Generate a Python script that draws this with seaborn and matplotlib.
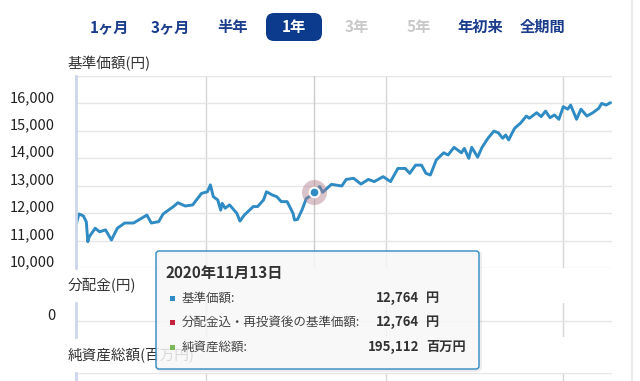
import numpy as np
import pandas as pd
import matplotlib
matplotlib.use("Agg")
import matplotlib.pyplot as plt
import seaborn as sns
from matplotlib.patches import FancyBboxPatch, Rectangle
from matplotlib.lines import Line2D
from matplotlib.transforms import ScaledTranslation

# ---------------- data ----------------
dates = [
    "2020-06-05", "2020-06-07", "2020-06-10", "2020-06-12", "2020-06-13", "2020-06-14",
    "2020-06-18", "2020-06-21", "2020-06-25", "2020-06-29", "2020-07-03", "2020-07-08",
    "2020-07-14", "2020-07-23", "2020-07-26", "2020-07-31", "2020-08-03", "2020-08-10",
    "2020-08-13", "2020-08-18", "2020-08-23", "2020-08-29", "2020-09-02", "2020-09-04",
    "2020-09-06", "2020-09-09", "2020-09-11", "2020-09-12", "2020-09-14", "2020-09-17",
    "2020-09-22", "2020-09-24", "2020-09-27", "2020-10-03", "2020-10-06", "2020-10-10",
    "2020-10-12", "2020-10-16", "2020-10-19", "2020-10-22", "2020-10-26", "2020-10-30",
    "2020-10-31", "2020-11-02", "2020-11-05", "2020-11-08", "2020-11-12", "2020-11-13",
    "2020-11-17", "2020-11-19", "2020-11-25", "2020-12-02", "2020-12-05", "2020-12-10",
    "2020-12-15", "2020-12-20", "2020-12-24", "2020-12-30", "2021-01-04", "2021-01-09",
    "2021-01-14", "2021-01-17", "2021-01-21", "2021-01-25", "2021-01-28", "2021-01-31",
    "2021-02-04", "2021-02-09", "2021-02-12", "2021-02-16", "2021-02-21", "2021-02-23",
    "2021-02-26", "2021-02-28", "2021-03-04", "2021-03-07", "2021-03-11", "2021-03-15",
    "2021-03-18", "2021-03-21", "2021-03-23", "2021-03-25", "2021-03-29", "2021-04-02",
    "2021-04-06", "2021-04-08", "2021-04-13", "2021-04-16", "2021-04-19", "2021-04-22",
    "2021-04-25", "2021-04-28", "2021-05-01", "2021-05-04", "2021-05-06", "2021-05-10",
    "2021-05-13", "2021-05-17", "2021-05-21", "2021-05-25", "2021-05-27", "2021-05-30",
    "2021-06-02",
]
nav = [
    11570, 11970, 11900, 11680, 10960, 11140,
    11450, 11320, 11390, 11020, 11450, 11640,
    11640, 11930, 11640, 11690, 11970, 12240,
    12380, 12260, 12300, 12720, 12780, 13030,
    12600, 12480, 12110, 12360, 12180, 12300,
    11990, 11710, 11930, 12240, 12240, 12480,
    12780, 12660, 12600, 12420, 12420, 11990,
    11750, 11770, 12110, 12540, 12660, 12764,
    12970, 12760, 13050, 12990, 13230, 13270,
    13060, 13230, 13150, 13330, 13150, 13630,
    13630, 13450, 13750, 13750, 13450, 13390,
    13940, 14200, 14120, 14400, 14200, 14360,
    14000, 14400, 14040, 14400, 14730, 14990,
    14930, 14730, 14850, 14670, 15090, 15280,
    15540, 15460, 15660, 15520, 15720, 15480,
    15580, 15420, 15880, 15790, 15940, 15420,
    15790, 15540, 15660, 15820, 16000, 15940,
    16030,
]
period_buttons = ["1ヶ月", "3ヶ月", "半年", "1年", "3年", "5年", "年初来", "全期間"]
active_button = "1年"
disabled_buttons = ["3年", "5年"]
nav_ticks = [10000, 11000, 12000, 13000, 14000, 15000, 16000, 17000]
dist_ticks = [0]
asset_ticks = [400000, 500000]
vgrid_dates = ["2020-09-01", "2021-01-01", "2021-05-01"]
x_range = ["2020-06-05", "2021-06-03"]
panel_titles = ["基準価額(円)", "分配金(円)", "純資産総額(百万円)"]
tooltip_date = "2020-11-13"
tooltip_labels = ["基準価額:", "分配金込・再投資後の基準価額:", "純資産総額:"]
tooltip_values = [12764, 12764, 195112]
tooltip_units = ["円", "円", "百万円"]
tooltip_colors = ["#2f8bc3", "#c4213c", "#7cb95c"]

# ---------------- style ----------------
sns.set_theme(style="white")
plt.rcParams["font.family"] = ["Noto Sans CJK JP", "DejaVu Sans"]

LINE = "#2f8bc3"
GRID_H = "#e6e6e6"
GRID_V = "#d6d6d6"
AXIS = "#ccd6eb"
TXT = "#333333"
NAVY = "#1b3d8c"

fig = plt.figure(figsize=(6.4, 3.81), dpi=100)
fig.patch.set_facecolor("white")
T = fig.dpi_scale_trans  # inches, origin bottom-left


def px(x, y):
    """pixel (top-left origin) -> inches"""
    return x / 100.0, (381 - y) / 100.0


df = pd.DataFrame({"date": pd.to_datetime(dates), "nav": nav})
xlim = (pd.Timestamp(x_range[0]), pd.Timestamp(x_range[1]))
vgrid = pd.to_datetime(vgrid_dates)
label_shift = ScaledTranslation(0, 0.07, T)


def style_axis(ax, ticks, labels):
    ax.set_xlim(*xlim)
    ax.set_xticks(vgrid)
    ax.set_xticklabels([])
    ax.set_yticks(ticks)
    ax.set_yticklabels(labels)
    ax.set_xlabel("")
    ax.set_ylabel("")
    ax.tick_params(axis="both", length=0)
    ax.tick_params(axis="y", pad=15, labelsize=10.5, labelcolor="#222222")
    ax.xaxis.grid(True, color=GRID_V, lw=1)
    ax.yaxis.grid(True, color=GRID_H, lw=1)
    ax.set_axisbelow(True)
    for s in ["top", "right", "bottom"]:
        ax.spines[s].set_visible(False)
    ax.spines["left"].set_color(AXIS)
    ax.spines["left"].set_linewidth(2)
    ax.set_facecolor("white")
    for tk in ax.yaxis.get_major_ticks():
        tk.label1.set_transform(tk.label1.get_transform() + label_shift)


# main panel
ax = fig.add_axes([76 / 640, (381 - 268) / 381, (612 - 76) / 640, (268 - 76) / 381])
sns.lineplot(data=df, x="date", y="nav", ax=ax, color=LINE, linewidth=2.1)
ax.lines[0].set_solid_joinstyle("round")
ax.set_ylim(nav_ticks[0], nav_ticks[-1])
style_axis(ax, nav_ticks, [f"{v:,}" if v != nav_ticks[-1] else "" for v in nav_ticks])

hl_date = pd.Timestamp(tooltip_date)
hl_val = df.loc[df["date"] == hl_date, "nav"].iloc[0]
ax.axvline(hl_date, color="#cccccc", lw=1, zorder=1)
ax.plot([hl_date], [hl_val], "o", ms=18, color="#b07a8a", alpha=0.45, mec="none", zorder=4)
ax.plot([hl_date], [hl_val], "o", ms=7, mfc=LINE, mec="white", mew=1.5, zorder=5)

# distribution panel
ax2 = fig.add_axes([76 / 640, (381 - 337) / 381, (612 - 76) / 640, 34 / 381])
ax2.set_ylim(-1, 1.13)
style_axis(ax2, dist_ticks, [str(v) for v in dist_ticks])

# net assets panel (mostly below the visible area)
ax3 = fig.add_axes([76 / 640, (381 - 473) / 381, (612 - 76) / 640, 100 / 381])
ax3.set_ylim(0, asset_ticks[-1])
style_axis(ax3, asset_ticks, [f"{v:,}" if v != asset_ticks[-1] else "" for v in asset_ticks])

# panel titles
for title, ypx in zip(panel_titles, [64, 286, 356]):
    x, y = px(68, ypx)
    fig.text(x, y, title, transform=T, ha="left", va="center", fontsize=10.5, color=TXT)

# period buttons
btn_centers = [109.5, 170.5, 232.5, 294, 356.5, 419, 480, 542.5]
for name, cx in zip(period_buttons, btn_centers):
    x, y = px(cx, 27)
    if name == active_button:
        bx, by = px(266, 41)
        fig.add_artist(FancyBboxPatch((bx, by), 0.56, 0.28, transform=T,
                                      boxstyle="round,pad=0,rounding_size=0.08",
                                      fc="#0c3a8c", ec="none"))
        col = "white"
    elif name in disabled_buttons:
        col = "#c9c9c9"
    else:
        col = NAVY
    fig.text(x, y, name, transform=T, ha="center", va="center",
             fontsize=11, fontweight="bold", color=col)

# page edge
fig.add_artist(Line2D([6.32, 6.32], [0, 3.81], transform=T, color="#ebebeb", lw=1.5))

# tooltip
tx0, ty0 = px(156, 369)
tw, th = (479 - 156) / 100, (369 - 251) / 100
fig.add_artist(FancyBboxPatch((tx0 + 0.012, ty0 - 0.012), tw, th, transform=T,
                              boxstyle="round,pad=0,rounding_size=0.03",
                              fc="none", ec=(0, 0, 0, 0.07), lw=2.5, zorder=9))
fig.add_artist(FancyBboxPatch((tx0, ty0), tw, th, transform=T,
                              boxstyle="round,pad=0,rounding_size=0.03",
                              fc=(247 / 255, 247 / 255, 247 / 255, 0.85),
                              ec=LINE, lw=1, zorder=10))
d = pd.Timestamp(tooltip_date)
x, y = px(166, 273)
fig.text(x, y, f"{d.year}年{d.month}月{d.day}日", transform=T, ha="left", va="center",
         fontsize=11, fontweight="bold", color=TXT, zorder=11)
for lab, val, unit, col, ypx in zip(tooltip_labels, tooltip_values, tooltip_units,
                                    tooltip_colors, [298, 322, 347]):
    mx, my = px(172, ypx)
    fig.add_artist(Rectangle((mx - 0.025, my - 0.025), 0.05, 0.05, transform=T,
                             fc=col, ec="none", zorder=11))
    x, y = px(182, ypx)
    fig.text(x, y, lab, transform=T, ha="left", va="center", fontsize=9,
             color="#444444", zorder=11)
    x, y = px(419, ypx)
    fig.text(x, y, f"{val:,}", transform=T, ha="right", va="center", fontsize=9.5,
             fontweight="bold", color=TXT, zorder=11)
    x, y = px(426, ypx)
    fig.text(x, y, unit, transform=T, ha="left", va="center", fontsize=9.5,
             fontweight="bold", color=TXT, zorder=11)

fig.savefig("out.png", dpi=100, facecolor="white")
